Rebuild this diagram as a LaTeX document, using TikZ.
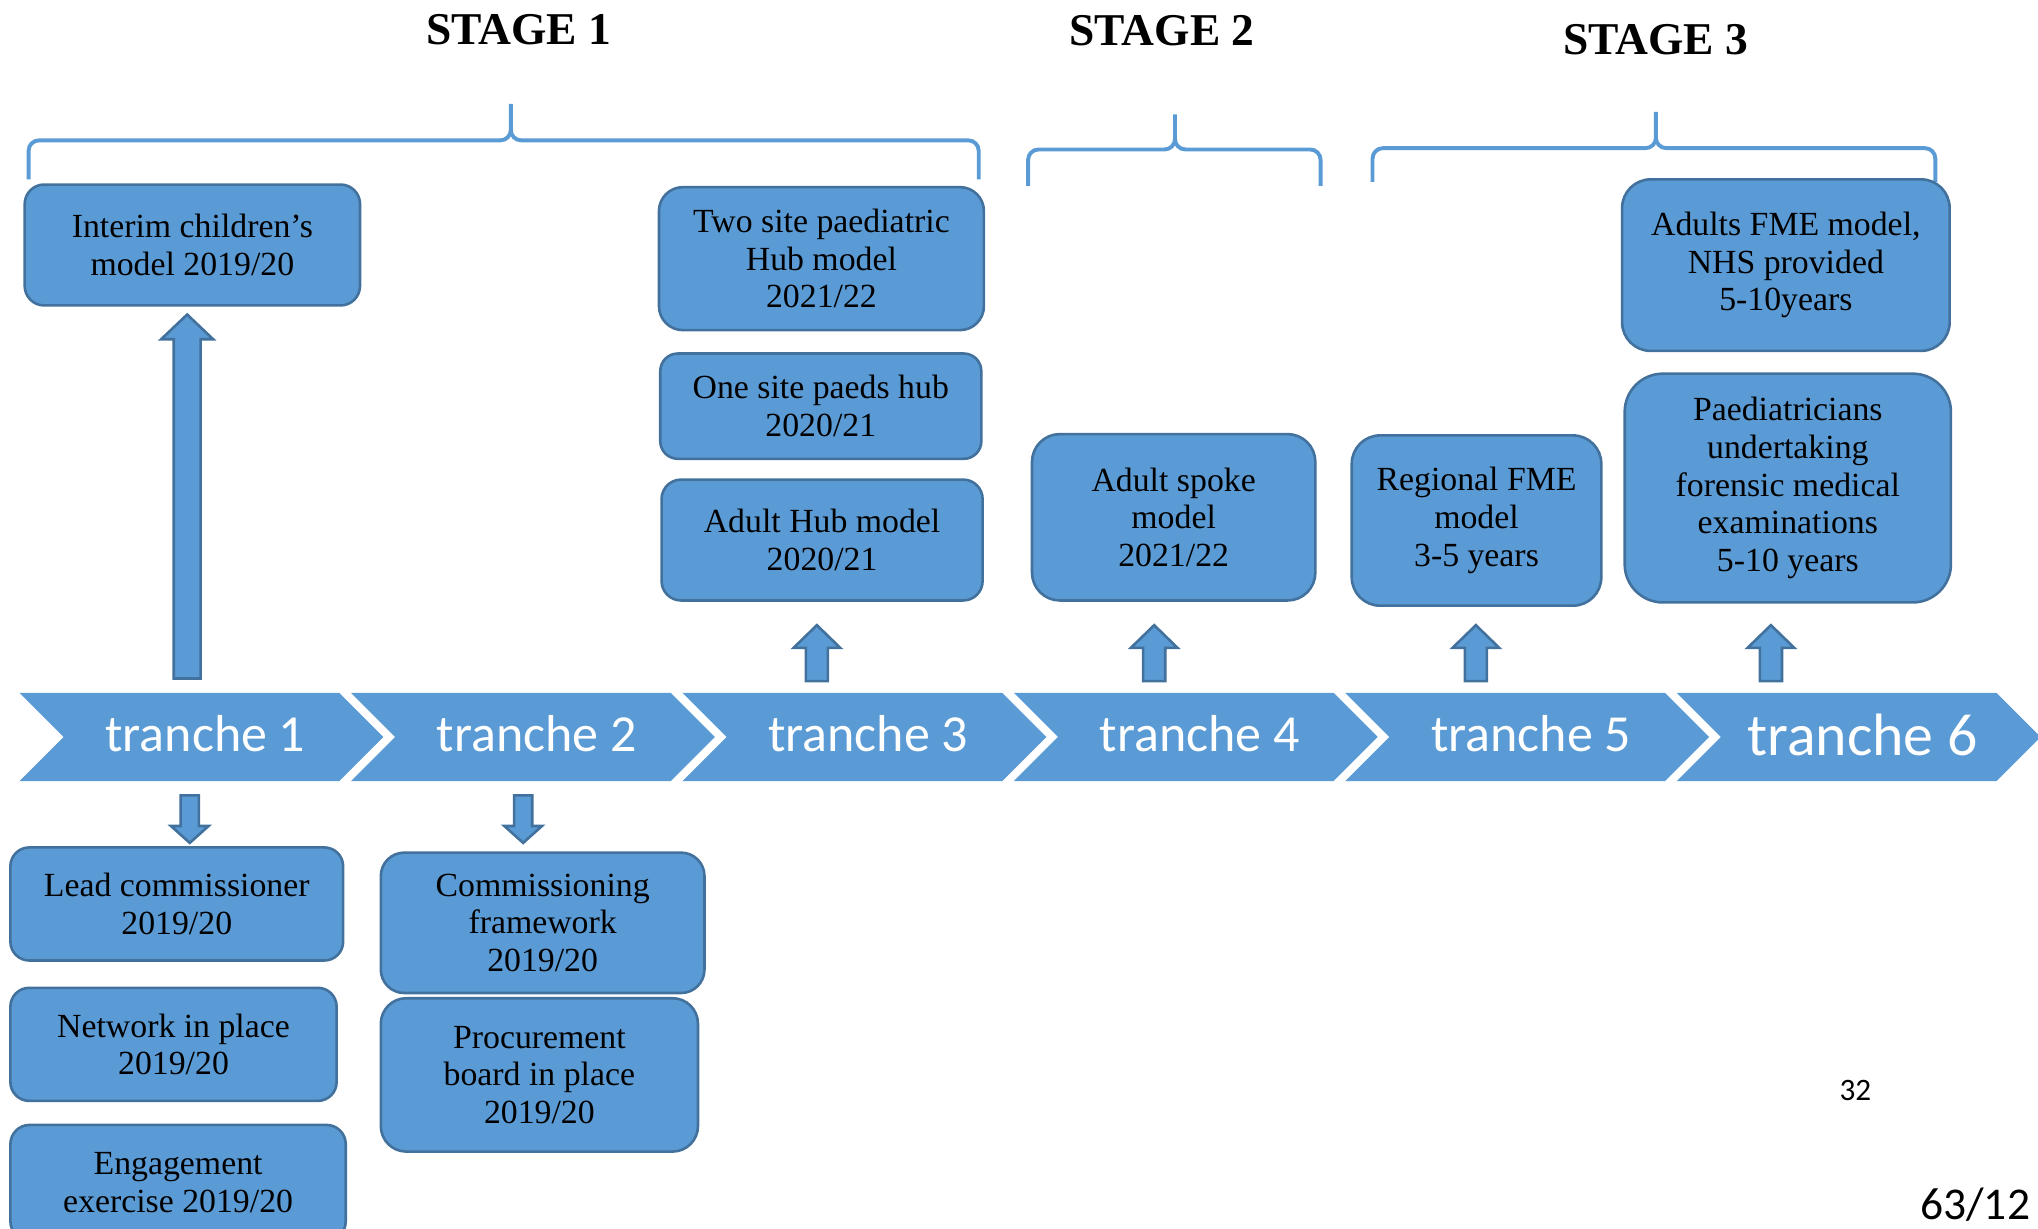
\documentclass[tikz,border=0pt]{standalone}
\usepackage{fontspec}
\setmainfont{Liberation Serif}
\newfontfamily\chevfont{Carlito}
\usetikzlibrary{calc}

\definecolor{boxblue}{HTML}{5B9BD5}
\definecolor{boxline}{HTML}{41719C}

\tikzset{
	box/.style={draw=boxline, line width=1pt, fill=boxblue, rounded corners=#1, align=center, inner sep=2pt, font=\fontsize{13}{14.5}\selectfont},
	box/.default=7.5pt,
	chev/.style={fill=boxblue},
	chevtext/.style={anchor=base, text=white, font=\chevfont\fontsize{20}{24}\selectfont},
	stagebrace/.style={draw=boxblue, line width=1.5pt, rounded corners=4pt},
	stagetitle/.style={anchor=base, font=\bfseries\fontsize{17.5}{20}\selectfont},
	arrowblock/.style={draw=boxline, line width=1pt, fill=boxblue, line join=miter},
}

% block arrow: tail, tip, half shaft, half head, head length
\newcommand{\blockarrow}[5]{%
	\draw[arrowblock] let \p1=(#1), \p2=(#2), \n1={#5} in
	(\x1-#3,\y1) -- (\x1-#3,\y2-\n1) -- (\x1-#4,\y2-\n1) -- (\x2,\y2)
	-- (\x1+#4,\y2-\n1) -- (\x1+#3,\y2-\n1) -- (\x1+#3,\y1) -- cycle;}
% brace: left, right, middle, tip, bar, leg end
\def\stagebrace(#1,#2,#3,#4,#5,#6){\draw[stagebrace] (#1,#6) -- (#1,#5) -- (#3,#5) -- (#3,#4) (#2,#6) -- (#2,#5) -- (#3,#5) -- (#3,#4);}

\begin{document}
\begin{tikzpicture}[x=0.5pt, y=-0.5pt]
	\useasboundingbox (0,0) rectangle (1568,945);
	
	%%%%% STAGES %%%%%
	\node[stagetitle] (stage1) at (399,34) {STAGE 1};
	\node[stagetitle] (stage2) at (894,35) {STAGE 2};
	\node[stagetitle] (stage3) at (1274,42) {STAGE 3};
	
	\stagebrace(22,753,393,80,108,138)
	\stagebrace(791,1016,904,88,115,143)
	\stagebrace(1056,1489,1274,86,114,140)
	
	%%%%% TRANCHES %%%%%
	\foreach \i in {1,...,6} {
		\pgfmathsetmacro{\xl}{15+255*(\i-1)}
		\fill[chev] (\xl,533) -- ++(246,0) -- ++(34,34) -- ++(-34,34) -- ++(-246,0) -- ++(34,-34) -- cycle;
	}
	\node[chevtext] (t1) at (158,578) {tranche 1};
	\node[chevtext] (t2) at (413,578) {tranche 2};
	\node[chevtext] (t3) at (668,578) {tranche 3};
	\node[chevtext] (t4) at (923,578) {tranche 4};
	\node[chevtext] (t5) at (1178,578) {tranche 5};
	\node[chevtext, font=\chevfont\fontsize{23}{26}\selectfont] (t6) at (1433,581) {tranche 6};
	
	%%%%% BOXES %%%%%
	\node[box] (interim) at (148,188.5) [minimum width=129pt, minimum height=46.5pt] {Interim children’s\\model 2019/20};
	\node[box=9.2pt] (twosite) at (632,199) [minimum width=125pt, minimum height=55pt] {Two site paediatric\\Hub model\\2021/22};
	\node[box=6.75pt] (onesite) at (631.5,312.5) [minimum width=123.5pt, minimum height=40.5pt] {One site paeds hub\\2020/21};
	\node[box] (adulthub) at (632.5,415.5) [minimum width=123.5pt, minimum height=46.5pt] {Adult Hub model\\2020/21};
	\node[box=10.7pt] (spoke) at (903,398) [minimum width=109pt, minimum height=64pt] {Adult spoke\\model\\2021/22};
	\node[box=10.9pt] (regional) at (1136,400.5) [minimum width=96pt, minimum height=65.5pt] {Regional FME\\model\\3-5 years};
	\node[box=11pt] (adultsfme) at (1374,204) [minimum width=126pt, minimum height=66pt] {Adults FME model,\\NHS provided\\5-10years};
	\node[box=14.7pt] (paeds) at (1375.5,375.5) [minimum width=125.5pt, minimum height=88pt] {Paediatricians\\undertaking\\forensic medical\\examinations\\5-10 years};
	
	\node[box=7.25pt] (lead) at (136,695.5) [minimum width=128pt, minimum height=43.5pt] {Lead commissioner\\2019/20};
	\node[box=7.25pt] (network) at (133.5,803.5) [minimum width=125.5pt, minimum height=43.5pt] {Network in place\\2019/20};
	\node[box=7.4pt] (engage) at (137,910) [minimum width=129pt, minimum height=44.5pt] {Engagement\\exercise 2019/20};
	\node[box=9pt] (commframe) at (417.5,710) [minimum width=124.5pt, minimum height=54pt] {Commissioning\\framework\\2019/20};
	\node[box=9.8pt] (procure) at (415,827) [minimum width=122pt, minimum height=59pt] {Procurement\\board in place\\2019/20};
	
	%%%%% ARROWS %%%%%
	\coordinate (bigtail) at (144,522);
	\coordinate (bigtip) at (144,242);
	\blockarrow{bigtail}{bigtip}{5.15pt}{10pt}{9.5pt}
	
	\foreach \k/\x in {3/628.5, 4/888, 5/1135.5, 6/1362.5} {
		\coordinate (up\k tail) at (\x,524);
		\coordinate (up\k tip) at (\x,481);
		\blockarrow{up\k tail}{up\k tip}{4.25pt}{9pt}{8.75pt}
	}
	
	\foreach \k/\x in {1/146, 2/402.5} {
		\coordinate (dn\k tail) at (\x,612);
		\coordinate (dn\k tip) at (\x,648.5);
		\blockarrow{dn\k tail}{dn\k tip}{3.5pt}{7.25pt}{-6.5pt}
	}
	
	%%%%% PAGE NUMBERS %%%%%
	\node[anchor=base west, inner sep=0pt, font=\chevfont\fontsize{12}{14}\selectfont] (pagenum) at (1415,847) {32};
	\node[anchor=base west, inner sep=0pt, font=\chevfont\fontsize{17.5}{20}\selectfont] (pageref) at (1477,938) {63/12};
\end{tikzpicture}
\end{document}
